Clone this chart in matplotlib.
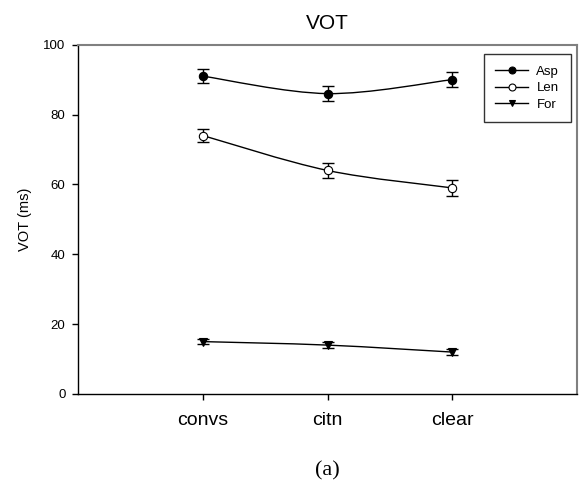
import matplotlib
matplotlib.use("Agg")
import matplotlib.pyplot as plt
import numpy as np
from matplotlib.path import Path
from matplotlib.patches import PathPatch
from matplotlib.lines import Line2D

categories = ["convs", "citn", "clear"]
asp = [91, 86, 90]
asp_err = [2.0, 2.2, 2.2]
len_ = [74, 64, 59]
len_err = [1.8, 2.1, 2.2]
for_ = [15, 14, 12]
for_err = [0.8, 0.8, 0.8]

plt.rcParams['font.family'] = ['Liberation Sans', 'DejaVu Sans']

fig = plt.figure(figsize=(5.79, 4.86), dpi=100)
ax = fig.add_axes([78/579, 1-394/486, (577-78)/579, (394-44.7)/486])

x = np.arange(1, len(categories) + 1)


def smooth_path(xs, ys):
    # Catmull-Rom through the data points, as cubic Bezier segments
    pts = np.column_stack([xs, ys]).astype(float)
    n = len(pts)
    verts = [pts[0]]
    codes = [Path.MOVETO]
    for i in range(n - 1):
        p0 = pts[i - 1] if i > 0 else pts[i]
        p1 = pts[i]
        p2 = pts[i + 1]
        p3 = pts[i + 2] if i + 2 < n else pts[i + 1]
        c1 = p1 + (p2 - p0) / 6.0
        c2 = p2 - (p3 - p1) / 6.0
        verts += [c1, c2, p2]
        codes += [Path.CURVE4] * 3
    return Path(verts, codes)


series = [
    ("Asp", asp, asp_err, dict(marker='o', mfc='black', mec='black')),
    ("Len", len_, len_err, dict(marker='o', mfc='white', mec='black')),
    ("For", for_, for_err, dict(marker='v', mfc='black', mec='black')),
]

handles = []
for name, vals, errs, mk in series:
    patch = PathPatch(smooth_path(x, vals), fill=False, edgecolor='black', lw=1.0, zorder=2)
    ax.add_patch(patch)
    ax.errorbar(x, vals, yerr=errs, fmt='none', ecolor='black', elinewidth=1.0,
                capsize=4, capthick=1.0, zorder=3)
    ax.plot(x, vals, linestyle='none', zorder=4, mew=0.8, ms=6, **mk)
    handles.append(Line2D([0], [0], color='black', lw=1.0, label=name, ms=5, mew=0.8, **mk))

ax.set_xlim(0, 4)
ax.set_ylim(0, 100)
ax.set_xticks(x)
ax.set_xticklabels(categories, fontsize=14)
ax.set_yticks([0, 20, 40, 60, 80, 100])
ax.tick_params(axis='y', labelsize=9.5, direction='out', length=4, width=1, pad=5)
ax.tick_params(axis='x', direction='out', length=4, width=1, pad=9)
ax.set_ylabel("VOT (ms)", fontsize=10.5, labelpad=8)
ax.set_title("VOT", fontsize=15, pad=11)

for s in ['left', 'bottom']:
    ax.spines[s].set_color('black')
    ax.spines[s].set_linewidth(1.0)
for s in ['top', 'right']:
    ax.spines[s].set_color('#808080')
    ax.spines[s].set_linewidth(1.5)

leg = ax.legend(handles=handles, loc='upper right',
                bbox_to_anchor=(571/579, 1-54/486), bbox_transform=fig.transFigure,
                borderaxespad=0, fontsize=9.5, frameon=True, fancybox=False,
                handlelength=2.5, handletextpad=0.6, labelspacing=0.3,
                borderpad=0.9)
leg.get_frame().set_edgecolor('black')
leg.get_frame().set_linewidth(1.0)

fig.text(327/579, 1-471/486, "(a)", ha='center', va='center', fontsize=16,
         family=['Liberation Serif', 'DejaVu Serif'])

fig.savefig("out.png", dpi=100)
